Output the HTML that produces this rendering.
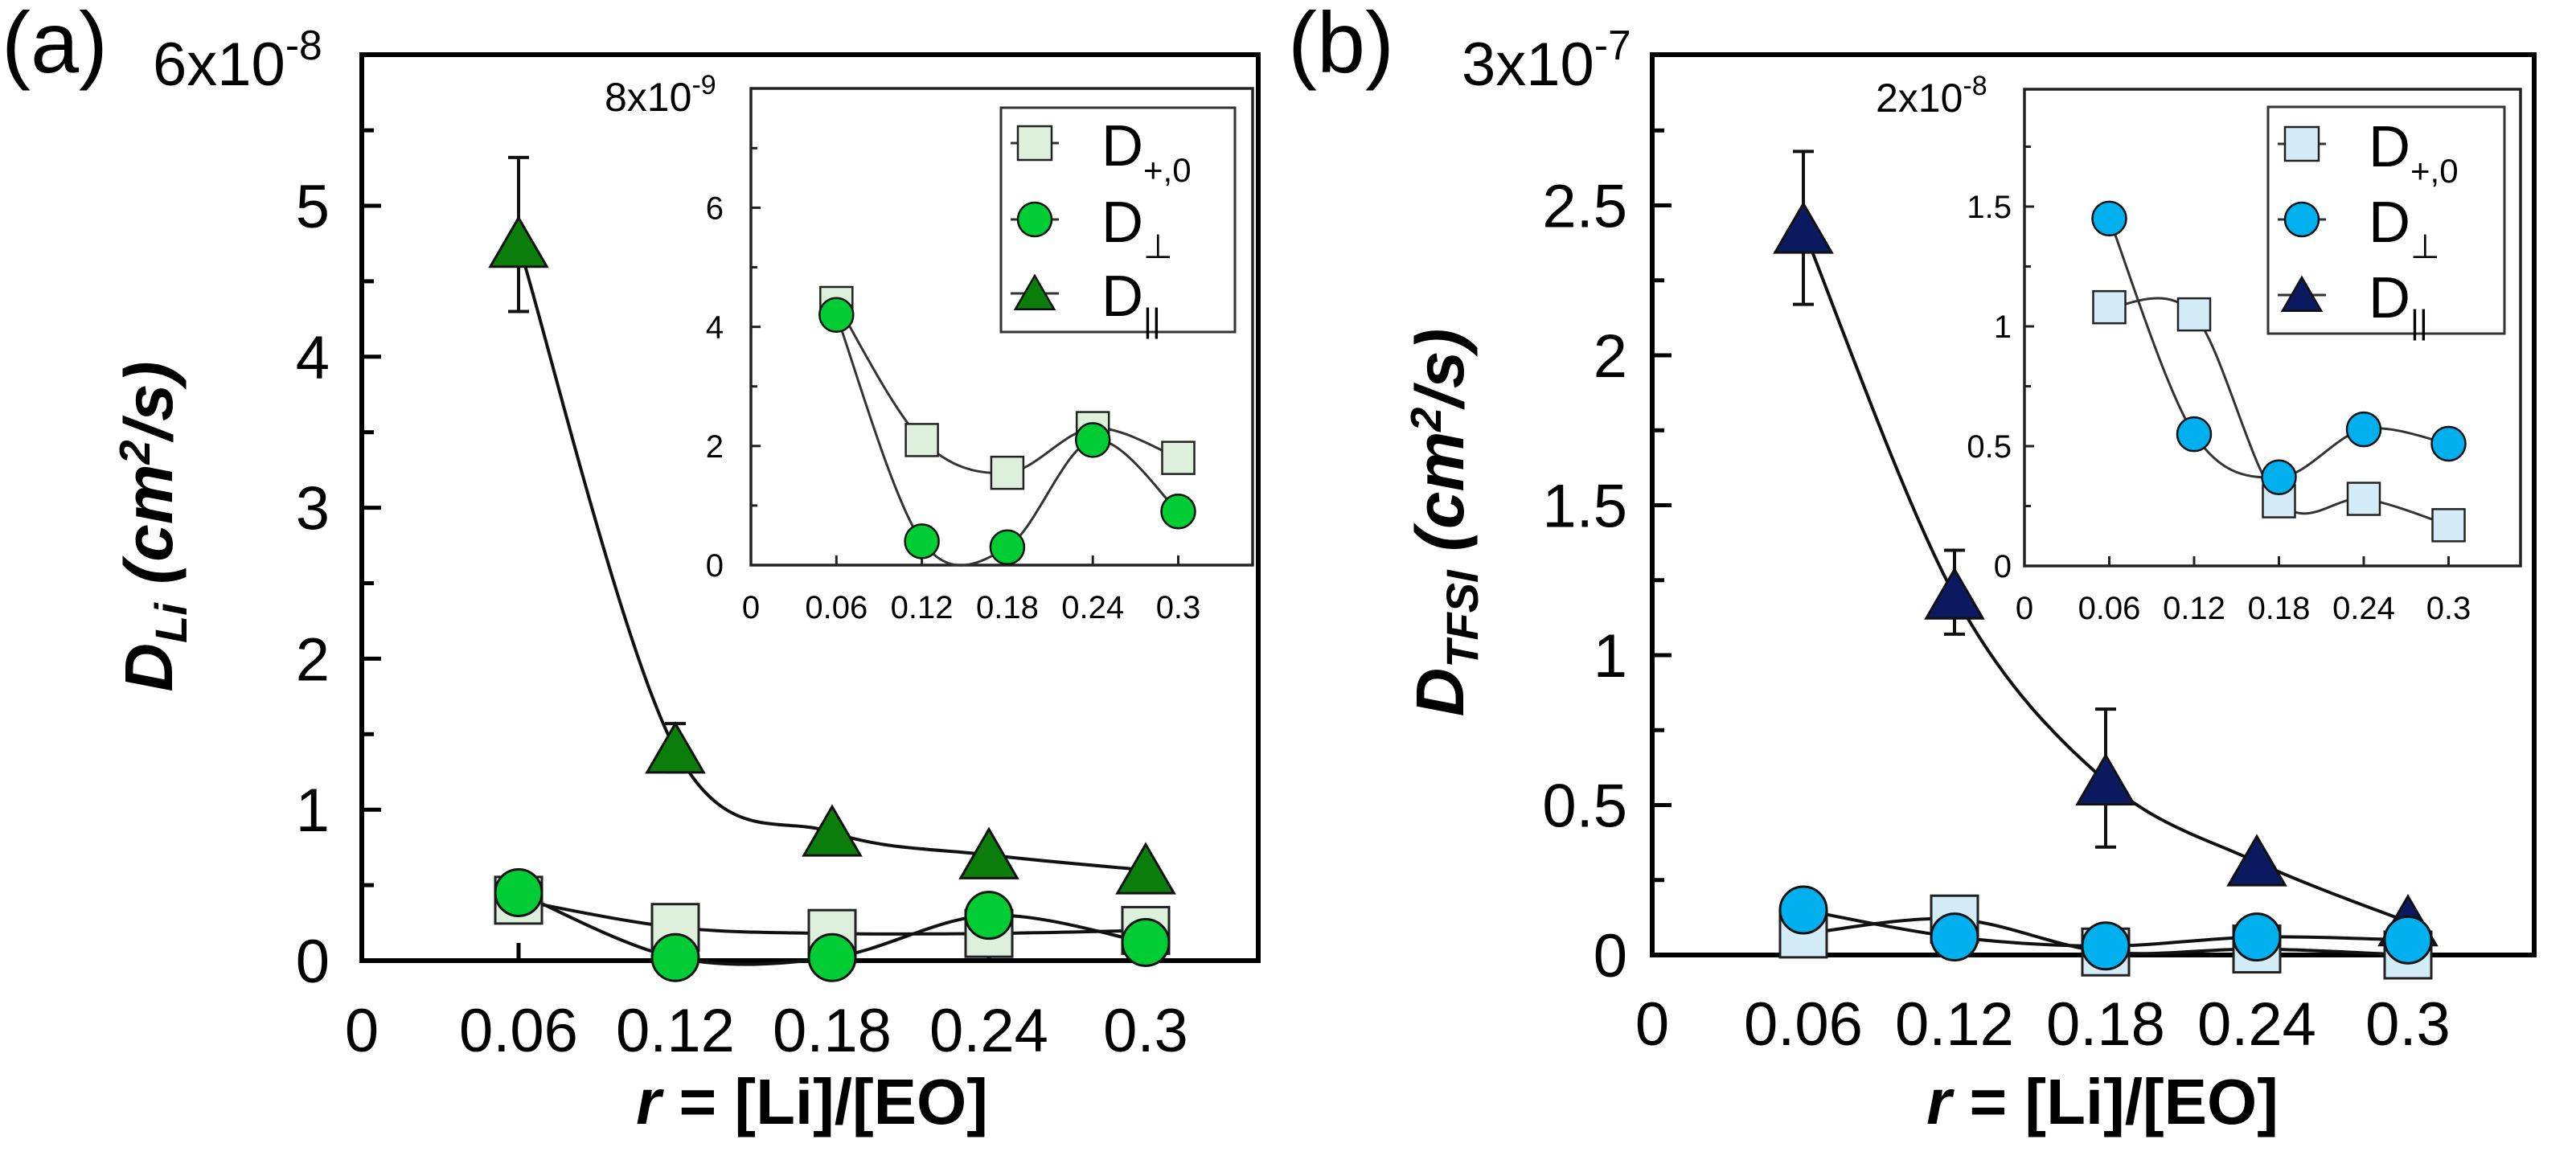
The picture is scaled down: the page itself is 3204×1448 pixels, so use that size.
<!DOCTYPE html>
<html><head><meta charset="utf-8"><style>
html,body{margin:0;padding:0;background:#fff;}
svg{display:block;font-family:"Liberation Sans",Arial,sans-serif;}
</style></head><body>
<svg id="fig" width="3204" height="1448" viewBox="0 0 3204 1448" xmlns="http://www.w3.org/2000/svg"></svg>
<script>
// ===== data =====
const rValues = [0.06, 0.12, 0.18, 0.24, 0.30];
const xTickLabels = ["0", "0.06", "0.12", "0.18", "0.24", "0.3"];
const xTickValues = [0, 0.06, 0.12, 0.18, 0.24, 0.30];
// panel a (x1e-8)
const aParallel = [4.75, 1.40, 0.85, 0.70, 0.60];
const aParallelErrHi = [5.32, 1.57, null, null, null];
const aParallelErrLo = [4.30, 1.25, null, null, null];
const aD0 = [0.40, 0.22, 0.18, 0.18, 0.20];
const aPerp = [0.45, 0.02, 0.02, 0.30, 0.12];
const aYTickLabels = ["0", "1", "2", "3", "4", "5"];
const aYTickValues = [0, 1, 2, 3, 4, 5];
// inset a (x1e-9)
const aInsetD0 = [4.40, 2.10, 1.55, 2.30, 1.80];
const aInsetPerp = [4.20, 0.40, 0.30, 2.10, 0.90];
const aInsetYTickLabels = ["0", "2", "4", "6"];
const aInsetYTickValues = [0, 2, 4, 6];
// panel b (x1e-7)
const bParallel = [2.42, 1.20, 0.58, 0.31, 0.11];
const bParallelErrHi = [2.68, 1.35, 0.82, null, null];
const bParallelErrLo = [2.17, 1.07, 0.36, null, null];
const bD0 = [0.07, 0.12, 0.01, 0.02, 0.00];
const bPerp = [0.15, 0.06, 0.03, 0.06, 0.05];
const bYTickLabels = ["0", "0.5", "1", "1.5", "2", "2.5"];
const bYTickValues = [0, 0.5, 1, 1.5, 2, 2.5];
// inset b (x1e-8)
const bInsetD0 = [1.08, 1.05, 0.27, 0.28, 0.17];
const bInsetPerp = [1.45, 0.55, 0.37, 0.57, 0.51];
const bInsetYTickLabels = ["0", "0.5", "1", "1.5"];
const bInsetYTickValues = [0, 0.5, 1, 1.5];

const NS = "http://www.w3.org/2000/svg";
const svg = document.getElementById("fig");
function el(tag, attrs, parent){const e=document.createElementNS(NS,tag);for(const k in attrs)e.setAttribute(k,attrs[k]);(parent||svg).appendChild(e);return e;}
function lin(d0,d1,r0,r1){return v=>r0+(v-d0)/(d1-d0)*(r1-r0);}
function spline(pts){
  let d="M"+pts[0][0]+","+pts[0][1];
  for(let i=0;i<pts.length-1;i++){
    const p0=pts[Math.max(0,i-1)],p1=pts[i],p2=pts[i+1],p3=pts[Math.min(pts.length-1,i+2)];
    const c1=[p1[0]+(p2[0]-p0[0])/6,p1[1]+(p2[1]-p0[1])/6];
    const c2=[p2[0]-(p3[0]-p1[0])/6,p2[1]-(p3[1]-p1[1])/6];
    d+=" C"+c1[0]+","+c1[1]+" "+c2[0]+","+c2[1]+" "+p2[0]+","+p2[1];
  }
  return d;
}
function marker(g,type,cx,cy,s,fill,sw,name){
  let m;
  if(type==="sq") m=el("rect",{x:cx-s/2,y:cy-s/2,width:s,height:s,fill:fill,stroke:"#222",'stroke-width':sw},g);
  else if(type==="ci") m=el("circle",{cx:cx,cy:cy,r:s/2,fill:fill,stroke:"#111",'stroke-width':sw},g);
  else m=el("polygon",{points:(cx)+","+(cy-s*0.5)+" "+(cx-s*0.55)+","+(cy+s*0.45)+" "+(cx+s*0.55)+","+(cy+s*0.45),fill:fill,stroke:"#111",'stroke-width':sw},g);
  
  
  return m;
}
function txt(g,x,y,s,size,anchor,name,weight,style){
  const t=el("text",{x:x,y:y,'font-size':size,'text-anchor':anchor||"middle",'font-weight':weight||"normal",'font-style':style||"normal",fill:"#000"},g);
  t.textContent=s;
  
  
  return t;
}
function sci(g,x,y,mant,exp,size,name){
  const t=el("text",{x:x,y:y,'font-size':size,fill:"#000"},g);
  
  
  const a=el("tspan",{},t);a.textContent=mant+"x10";
  const b=el("tspan",{dy:-size*0.42,'font-size':size*0.68},t);b.textContent=exp;
}

function panel(P){
  const g=el("g",{});
  
  
  const X=lin(0,0.06,P.x0,P.x0+P.dx), Y=lin(0,1,P.y0,P.y0-P.dy);
  const fr=el("rect",{x:P.x0,y:P.top,width:P.right-P.x0,height:P.y0-P.top,fill:"none",stroke:"#000",'stroke-width':6},g);
  
  
  for(let v=P.minor;v<P.ymax-1e-9;v+=P.minor){
    const isMaj=Math.abs(v/P.major-Math.round(v/P.major))<1e-6;
    el("line",{x1:P.x0,x2:P.x0+(isMaj?24:15),y1:Y(v),y2:Y(v),stroke:"#000",'stroke-width':5},g);
  }
  P.yTickValues.forEach((v,i)=>txt(g,P.ylabX,Y(v)+27,P.yTickLabels[i],76,"end","y-tick-label"));
  xTickValues.forEach((v,i)=>{
    if(v>0) el("line",{x1:X(v),x2:X(v),y1:P.y0,y2:P.y0-22,stroke:"#000",'stroke-width':5},g);
    txt(g,X(v),P.xlabY,xTickLabels[i],76,"middle","x-tick-label");
  });
  sci(g,P.topLblX,P.topLblY,P.topMant,P.topExp,76,"y-axis-scale-label");
  txt(g,P.letterX,90,P.letter,108,"start","panel-label");
  const yt=el("text",{transform:"translate("+P.ytX+","+P.ytY+") rotate(-90)",'font-size':84,'font-weight':"bold",'font-style':"italic",'text-anchor':"middle"},g);
  
  
  let s1=el("tspan",{},yt);s1.textContent="D";
  let s2=el("tspan",{dy:18,'font-size':56},yt);s2.textContent=P.ysub;
  let s3=el("tspan",{dy:-18},yt);s3.textContent=" (cm";
  let s4=el("tspan",{dy:-28,'font-size':54},yt);s4.textContent="2";
  let s5=el("tspan",{dy:28},yt);s5.textContent="/s)";
  const xt=el("text",{x:P.xtX,y:1398,'font-size':80,'font-weight':"bold",'text-anchor':"middle"},g);
  
  
  let r1=el("tspan",{'font-style':"italic"},xt);r1.textContent="r";
  let r2=el("tspan",{},xt);r2.textContent=" = [Li]/[EO]";
  [[P.d0,"d0"],[P.perp,"perp"],[P.par,"parallel"]].forEach(([arr,n])=>{
    const l=el("path",{d:spline(rValues.map((r,i)=>[X(r),Y(arr[i])])),fill:"none",stroke:"#111",'stroke-width':4},g);
    
    
  });
  rValues.forEach((r,i)=>{
    if(P.hi[i]!=null){
      el("line",{x1:X(r),x2:X(r),y1:Y(P.hi[i]),y2:Y(P.lo[i]),stroke:"#111",'stroke-width':4},g);
      el("line",{x1:X(r)-13,x2:X(r)+13,y1:Y(P.hi[i]),y2:Y(P.hi[i]),stroke:"#111",'stroke-width':4},g);
      el("line",{x1:X(r)-13,x2:X(r)+13,y1:Y(P.lo[i]),y2:Y(P.lo[i]),stroke:"#111",'stroke-width':4},g);
    }
  });
  rValues.forEach((r,i)=>marker(g,"tr",X(r),Y(P.par[i]),64,P.cTr,3,"parallel-point"));
  rValues.forEach((r,i)=>marker(g,"sq",X(r),Y(P.d0[i]),58,P.cSq,3,"d0-point"));
  rValues.forEach((r,i)=>marker(g,"ci",X(r),Y(P.perp[i]),58,P.cCi,3,"perp-point"));

  const I=P.inset;
  const gi=el("g",{},g);
  
  
  const IX=lin(0,0.06,I.x0,I.x0+I.dx), IY=lin(0,1,I.y0,I.y0-I.dy);
  el("rect",{x:I.x0,y:I.top,width:I.right-I.x0,height:I.y0-I.top,fill:"#fff",stroke:"#222",'stroke-width':3.5},gi);
  for(let v=I.minor;v<I.ymax-1e-9;v+=I.minor){
    const isMaj=Math.abs(v/I.major-Math.round(v/I.major))<1e-6;
    el("line",{x1:I.x0,x2:I.x0+(isMaj?12:8),y1:IY(v),y2:IY(v),stroke:"#222",'stroke-width':3},gi);
  }
  I.yTickValues.forEach((v,i)=>txt(gi,I.ylabX,IY(v)+14,I.yTickLabels[i],40,"end","inset-y-tick-label"));
  xTickValues.forEach((v,i)=>{
    if(v>0) el("line",{x1:IX(v),x2:IX(v),y1:I.y0,y2:I.y0-12,stroke:"#222",'stroke-width':3},gi);
    txt(gi,IX(v),I.y0+66,xTickLabels[i],40,"middle","inset-x-tick-label");
  });
  sci(gi,I.lblX,I.top+28,I.mant,I.exp,50,"inset-scale-label");
  [[I.d0,"inset-d0"],[I.perp,"inset-perp"]].forEach(([arr,n])=>{
    const l=el("path",{d:spline(rValues.map((r,i)=>[IX(r),IY(arr[i])])),fill:"none",stroke:"#333",'stroke-width':3},gi);
    
    
  });
  rValues.forEach((r,i)=>marker(gi,"sq",IX(r),IY(I.d0[i]),40,P.cSq,2.5,"inset-d0-point"));
  rValues.forEach((r,i)=>marker(gi,"ci",IX(r),IY(I.perp[i]),42,P.cCi,2.5,"inset-perp-point"));
  const L=I.leg;
  const gl=el("g",{},gi);
  
  
  el("rect",{x:L.x,y:L.y,width:L.w,height:L.h,fill:"#fff",stroke:"#333",'stroke-width':3},gl);
  const rows=[["sq",P.cSq,"+,0","legend-entry-d0"],["ci",P.cCi,"\u22A5","legend-entry-perp"],["tr",P.cTr,"||","legend-entry-parallel"]];
  rows.forEach((row,k)=>{
    const cy=L.rows[k], mx=L.x+42;
    el("line",{x1:mx-30,x2:mx+30,y1:cy,y2:cy,stroke:"#333",'stroke-width':3},gl);
    marker(gl,row[0],mx,cy,row[0]==="tr"?44:42,row[1],2.5,row[3]+"-marker");
    const t=el("text",{x:L.x+125,y:cy+28,'font-size':72},gl);
    
    
    const a=el("tspan",{},t);a.textContent="D";
    const b=el("tspan",{dy:20,'font-size':42},t);b.textContent=row[2];
  });
}

panel({name:"panel-a",letter:"(a)",letterX:2,x0:450,dx:195,y0:1195,dy:187.8,top:68,right:1565,ymax:6,major:1,minor:0.5,
  yTickValues:aYTickValues,yTickLabels:aYTickLabels,ylabX:410,xlabY:1308,topLblX:190,topLblY:106,topMant:"6",topExp:"-8",
  ytX:214,ytY:655,ysub:"Li",xtX:1010,par:aParallel,hi:aParallelErrHi,lo:aParallelErrLo,d0:aD0,perp:aPerp,
  cSq:"#dcf0dc",cCi:"#00cc33",cTr:"#0a7d0a",
  inset:{x0:934,dx:106.3,y0:703,dy:74.1,top:110,right:1558,ymax:8,major:2,minor:1,yTickValues:aInsetYTickValues,yTickLabels:aInsetYTickLabels,
    ylabX:900,lblX:752,mant:"8",exp:"-9",d0:aInsetD0,perp:aInsetPerp,
    leg:{x:1245,y:134,w:291,h:279,rows:[178,273,365]}}});

panel({name:"panel-b",letter:"(b)",letterX:1602,x0:2055,dx:188,y0:1188,dy:373,top:68,right:3152,ymax:3,major:0.5,minor:0.25,
  yTickValues:bYTickValues,yTickLabels:bYTickLabels,ylabX:2024,xlabY:1300,topLblX:1818,topLblY:106,topMant:"3",topExp:"-7",
  ytX:1820,ytY:650,ysub:"TFSI",xtX:2615,par:bParallel,hi:bParallelErrHi,lo:bParallelErrLo,d0:bD0,perp:bPerp,
  cSq:"#d4ecf8",cCi:"#00b0ee",cTr:"#0b1a60",
  inset:{x0:2518,dx:105.5,y0:704,dy:298,top:111,right:3135,ymax:2,major:0.5,minor:0.25,yTickValues:bInsetYTickValues,yTickLabels:bInsetYTickLabels,
    ylabX:2502,lblX:2333,mant:"2",exp:"-8",d0:bInsetD0,perp:bInsetPerp,
    leg:{x:2821,y:133,w:294,h:282,rows:[179,273,367]}}});
</script>
</body></html>
